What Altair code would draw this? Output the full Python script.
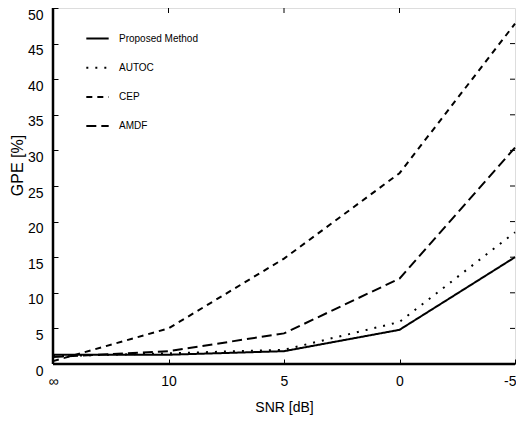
import altair as alt
import pandas as pd

snr_pos = [0, 1, 2, 3, 4]
snr_labels = ["∞", "10", "5", "0", "-5"]
methods = ["Proposed Method", "AUTOC", "CEP", "AMDF"]
proposed = [1.3, 1.3, 1.8, 4.8, 15.0]
autoc = [1.1, 1.5, 2.0, 5.9, 18.5]
cep = [0.4, 5.0, 14.8, 26.8, 47.8]
amdf = [1.0, 1.8, 4.3, 12.0, 30.4]
y_ticks = list(range(0, 51, 5))

rows = []
for name, vals in zip(methods, [proposed, autoc, cep, amdf]):
    for p, v in zip(snr_pos, vals):
        rows.append({"snr": p, "gpe": v, "method": name})
df = pd.DataFrame(rows)

FONT = "Liberation Sans, Arial"
L, W, H = 45, 462, 356

label_expr = "[" + ",".join("'" + s + "'" for s in snr_labels) + "][datum.value]"

x_scale = alt.Scale(domain=[0, 4], nice=False)
y_scale = alt.Scale(domain=[0, 50], nice=False)

x_main = alt.X("snr:Q", scale=x_scale,
               axis=alt.Axis(values=snr_pos, labelExpr=label_expr, title="SNR [dB]",
                             orient="bottom", offset=-5, tickSize=5, domain=False,
                             grid=False, labelPadding=10, labelFontSize=14,
                             labelFont=FONT, labelColor="black", tickColor="black",
                             labelOverlap=False,
                             labelAlign={"condition": {"test": "datum.value == 4", "value": "right"}, "value": "center"},
                             labelOffset={"condition": {"test": "datum.value == 4", "value": 1}, "value": 0},
                             tickWidth=1, titleFont=FONT, titleFontSize=14,
                             titleFontWeight="normal", titleColor="black",
                             titlePadding=12))
y_main = alt.Y("gpe:Q", scale=y_scale,
               axis=alt.Axis(values=y_ticks, title="GPE [%]", orient="left",
                             offset=-5, tickSize=5, domain=False, grid=False,
                             labelPadding=10, labelFontSize=14, labelFont=FONT,
                             labelBaseline="top", labelOverlap=False,
                             labelColor="black", tickColor="black", tickWidth=1,
                             titleFont=FONT, titleFontSize=16,
                             titleFontWeight="normal", titleColor="black",
                             titleX=-41, titleY=157, titleBaseline="middle",
                             titleAngle=270))

lines = alt.Chart(df).mark_line(color="black", strokeWidth=2).encode(
    x=x_main,
    y=y_main,
    strokeDash=alt.StrokeDash(
        "method:N",
        scale=alt.Scale(domain=methods,
                        range=[[1, 0], [2, 7], [6, 5], [10, 5]]),
        legend=alt.Legend(title=None, orient="none", legendX=32, legendY=18,
                          symbolType="stroke", symbolSize=500,
                          symbolStrokeColor="black", symbolStrokeWidth=2,
                          labelFont=FONT, labelFontSize=10, labelColor="black",
                          labelOffset=9, rowPadding=11.2),
    ),
    detail="method:N",
)

# inward ticks on top and right (frame ticks)
ticks_df_x = pd.DataFrame({"snr": snr_pos[1:4]})
ticks_df_y = pd.DataFrame({"gpe": y_ticks[1:10]})
top_ticks = alt.Chart(ticks_df_x).mark_rule(color="black", strokeWidth=1).encode(
    x=alt.X("snr:Q", scale=x_scale, axis=None),
    y=alt.value(0), y2=alt.value(5))
right_ticks = alt.Chart(ticks_df_y).mark_rule(color="black", strokeWidth=1).encode(
    y=alt.Y("gpe:Q", scale=y_scale, axis=None),
    x=alt.value(W - 5), x2=alt.value(W))
left_edge = alt.Chart(pd.DataFrame({"a": [0]})).mark_rule(color="black", strokeWidth=2.5).encode(
    x=alt.value(0), y=alt.value(0), y2=alt.value(H))
bottom_edge = alt.Chart(pd.DataFrame({"a": [0]})).mark_rule(color="black", strokeWidth=2.5).encode(
    y=alt.value(H), x=alt.value(0), x2=alt.value(W))

chart = alt.layer(lines, top_ticks, right_ticks, left_edge, bottom_edge).resolve_axis(
    x="independent", y="independent"
).properties(
    width=W, height=H,
    autosize=alt.AutoSizeParams(type="none"),
    padding={"left": L, "top": 0, "right": 1, "bottom": 57},
).configure_view(stroke="black", strokeWidth=1.5).configure(background="white")

chart.save("out.html", embed_options={"renderer": "svg", "actions": False})
